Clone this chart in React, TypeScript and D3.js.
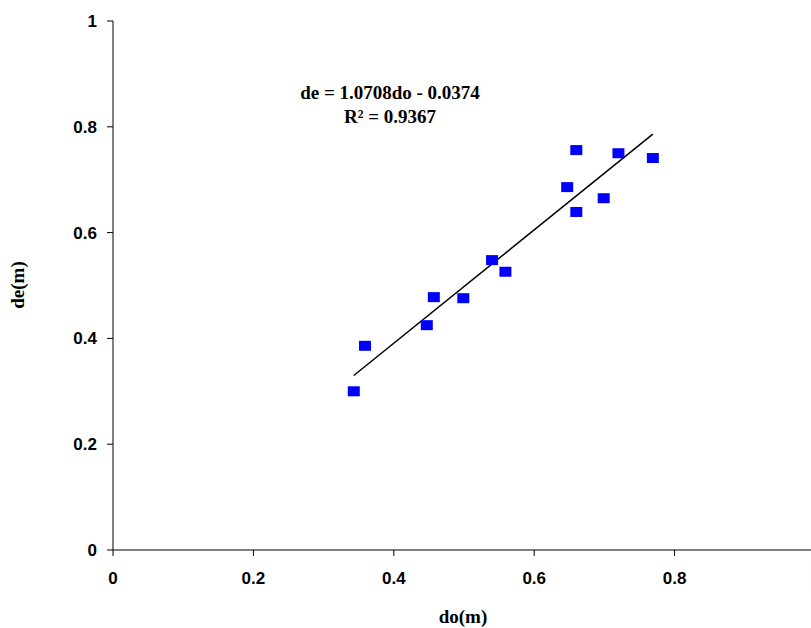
import React from "react";
import * as d3 from "d3";

const doValues = [0.343, 0.359, 0.447, 0.457, 0.499, 0.54, 0.559, 0.647, 0.66, 0.66, 0.699, 0.72, 0.769];
const deValues = [0.30, 0.386, 0.425, 0.478, 0.476, 0.548, 0.526, 0.686, 0.756, 0.639, 0.665, 0.75, 0.741];
const ticks = [0, 0.2, 0.4, 0.6, 0.8, 1];
const slope = 1.0708;
const intercept = -0.0374;

export default function App() {
  const width = 811, height = 628;
  const x = d3.scaleLinear([0, 1], [113, 815]);
  const y = d3.scaleLinear([0, 1], [550, 21]);
  const x0 = d3.min(doValues)!, x1 = d3.max(doValues)!;
  const line = d3.line<number>((d) => x(d), (d) => y(slope * d + intercept));
  const tickFont = { fontFamily: "Liberation Sans, Arial, sans-serif", fontWeight: "bold", fontSize: 17 } as const;
  const serif = { fontFamily: "Liberation Serif, Times New Roman, serif", fontWeight: "bold" } as const;
  return (
    <svg width={width} height={height} style={{ position: "absolute", left: 0, top: 0, background: "#fff" }}>
      <line x1={113} x2={113} y1={y(1)} y2={y(0)} stroke="#000" />
      <line x1={113} x2={width} y1={y(0)} y2={y(0)} stroke="#000" />
      {ticks.map((t) => (
        <g key={"y" + t}>
          <line x1={107} x2={113} y1={y(t)} y2={y(t)} stroke="#000" />
          <text x={97} y={y(t) + 6} textAnchor="end" style={tickFont}>{t}</text>
        </g>
      ))}
      {ticks.map((t) => (
        <g key={"x" + t}>
          <line x1={x(t)} x2={x(t)} y1={550} y2={556} stroke="#000" />
          <text x={x(t)} y={584} textAnchor="middle" style={tickFont}>{t}</text>
        </g>
      ))}
      <path d={line([x0, x1])!} stroke="#000" strokeWidth={1.5} fill="none" />
      {doValues.map((d, i) => (
        <rect key={i} x={x(d) - 6} y={y(deValues[i]) - 5} width={12} height={10} fill="#0000ff" />
      ))}
      <text x={390} y={99} textAnchor="middle" style={{ ...serif, fontSize: 19 }}>de = 1.0708do - 0.0374</text>
      <text x={390} y={123} textAnchor="middle" style={{ ...serif, fontSize: 19 }}>R² = 0.9367</text>
      <text x={463} y={623} textAnchor="middle" style={{ ...serif, fontSize: 19 }}>do(m)</text>
      <text transform="translate(24,285) rotate(-90)" textAnchor="middle" style={{ ...serif, fontSize: 19 }}>de(m)</text>
    </svg>
  );
}
